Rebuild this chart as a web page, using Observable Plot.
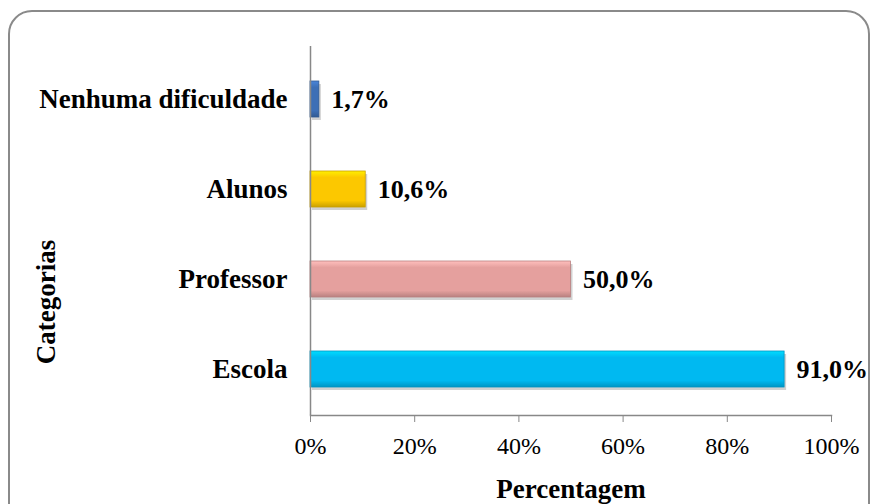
<!DOCTYPE html>
<html>
<head>
<meta charset="utf-8">
<script src="https://cdn.jsdelivr.net/npm/d3@7"></script>
<script src="https://cdn.jsdelivr.net/npm/@observablehq/plot@0.6"></script>
<style>
  html, body { margin: 0; padding: 0; background: #fff; }
  #wrap { position: relative; width: 876px; height: 504px; overflow: hidden; }
  #border { position: absolute; left: 8px; top: 10px; width: 862px; height: 520px;
            border: 2px solid #8a8a8a; border-radius: 24px; box-sizing: border-box; }
  #chart { position: absolute; left: 0; top: 0; }
</style>
</head>
<body>
<div id="wrap"><div id="border"></div><div id="chart"></div></div>
<script>
const categories = ["Nenhuma dificuldade", "Alunos", "Professor", "Escola"];
const values = [0.017, 0.106, 0.50, 0.91];
const colors = ["#3d6fb6", "#fcc800", "#e5a09e", "#00b9f1"];
const xTicks = [0, 0.2, 0.4, 0.6, 0.8, 1.0];

const data = categories.map((c, i) => ({category: c, value: values[i], color: colors[i], gid: "g" + i}));
const fmt = v => (v * 100).toFixed(1).replace(".", ",") + "%";
const serif = "'Liberation Serif', 'Times New Roman', serif";

const plot = Plot.plot({
  width: 876,
  height: 504,
  marginLeft: 310,
  marginRight: 45,
  marginTop: 52,
  marginBottom: 89,
  style: {fontFamily: serif, background: "transparent", overflow: "visible"},
  x: {domain: [0, 1]},
  y: {domain: categories, paddingInner: 0.6, paddingOuter: 0.3},
  marks: [
    // shadow
    Plot.barX(data, {y: "category", x: "value", fill: "#000", fillOpacity: 0.18, dx: 2, dy: 3}),
    Plot.barX(data, {y: "category", x: "value", fill: d => `url(#${d.gid})`, stroke: d => d3.color(d.color).darker(0.6).formatHex(), strokeWidth: 0.8}),
    Plot.axisX({ticks: xTicks, tickFormat: d => Math.round(d * 100) + "%", tickSize: 7, tickPadding: 14,
                fontSize: 24, stroke: "#888", strokeOpacity: 1, color: "#000", label: null}),
    Plot.frame({anchor: "bottom", stroke: "#888", strokeWidth: 1.5, strokeOpacity: 1}),
    Plot.ruleX([0], {stroke: "#888", strokeWidth: 1.5, insetTop: -6}),
    Plot.axisY({tickSize: 0, tickPadding: 23, fontSize: 27, fontWeight: "bold", color: "#000", label: null}),
    Plot.text(data, {y: "category", x: "value", text: d => fmt(d.value), textAnchor: "start", dx: 12,
                     fontSize: 26, fontWeight: "bold", fill: "#000"}),
    Plot.text(["Percentagem"], {frameAnchor: "bottom", lineAnchor: "bottom", dy: 82, fontSize: 27, fontWeight: "bold", fill: "#000"}),
    Plot.text(["Categorias"], {frameAnchor: "left", textAnchor: "middle", lineAnchor: "middle", dx: -264, dy: 68, rotate: -90, fontSize: 27, fontWeight: "bold", fill: "#000"})
  ]
});

// gradient defs for bevel look
const svg = d3.select(plot);
const defs = svg.insert("defs", ":first-child");
data.forEach(d => {
  const c = d3.color(d.color);
  const g = defs.append("linearGradient").attr("id", d.gid).attr("x1", 0).attr("y1", 0).attr("x2", 0).attr("y2", 1);
  g.append("stop").attr("offset", "0%").attr("stop-color", c.brighter(0.5).formatHex());
  g.append("stop").attr("offset", "18%").attr("stop-color", c.formatHex());
  g.append("stop").attr("offset", "82%").attr("stop-color", c.formatHex());
  g.append("stop").attr("offset", "100%").attr("stop-color", c.darker(0.6).formatHex());
});
document.getElementById("chart").appendChild(plot);
</script>
</body>
</html>
